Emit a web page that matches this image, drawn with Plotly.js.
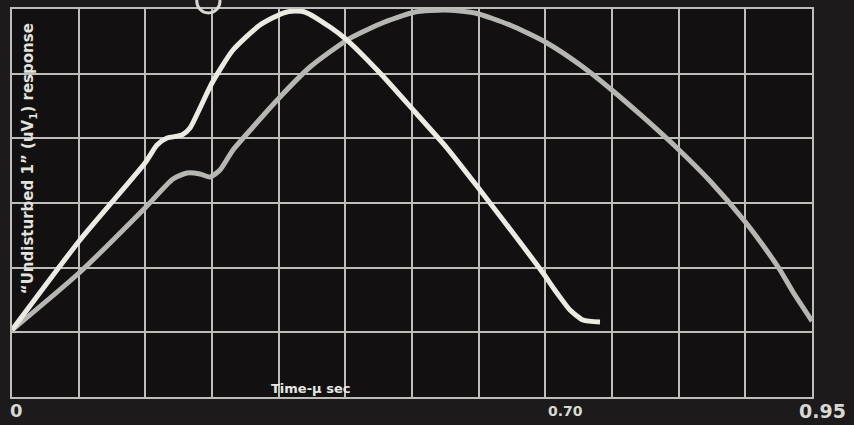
<!DOCTYPE html>
<html>
<head>
<meta charset="utf-8">
<script src="https://cdn.plot.ly/plotly-3.0.1.min.js"></script>
<style>html,body{margin:0;padding:0;background:#1c1a1a;}#chart{width:854px;height:425px;}</style>
</head>
<body>
<div id="chart"></div>
<script>
// Graticule units: x = horizontal divisions (0..12), y = vertical divisions (0..6)
const traceA_x = [0, 1.02, 1.995, 2.175, 2.325, 2.55, 2.67, 2.82, 3.0, 3.315, 3.72, 4.065, 4.245, 4.395, 4.77, 5.025, 5.52, 6.045, 6.525, 7.02, 7.515, 7.965, 8.175, 8.37, 8.565, 8.82];
const traceA_y = [1.036, 2.428, 3.618, 3.897, 4.005, 4.051, 4.160, 4.469, 4.855, 5.366, 5.752, 5.938, 5.969, 5.953, 5.721, 5.520, 5.010, 4.407, 3.850, 3.201, 2.536, 1.917, 1.608, 1.345, 1.191, 1.160];
const traceB_x = [0, 1.005, 1.995, 2.415, 2.625, 2.82, 2.97, 3.12, 3.315, 3.615, 4.02, 4.47, 5.025, 5.52, 6.045, 6.495, 6.945, 7.47, 8.025, 8.565, 9.015, 9.465, 9.975, 10.47, 11.0, 11.325, 11.52, 11.715, 12.0];
const traceB_y = [1.036, 1.917, 2.923, 3.371, 3.464, 3.448, 3.402, 3.510, 3.819, 4.175, 4.639, 5.103, 5.520, 5.768, 5.953, 5.984, 5.938, 5.752, 5.474, 5.103, 4.732, 4.330, 3.850, 3.340, 2.706, 2.258, 1.964, 1.624, 1.175];
const tickLabels = ["0", "0.70", "0.95"];
const tickAt = [0.06, 8.3, 12.15];
const tickSizes = [18, 14, 19];
const yTitle = "“Undisturbed 1” (uV<sub>1</sub>) response";
const xTitle = "Time-µ sec";

const gridCol = '#bdbdb9';
const fontFam = 'DejaVu Sans, Lato, sans-serif';
const data = [
  {x: traceB_x, y: traceB_y, mode: 'lines', line: {color: '#b6b6b2', width: 5, shape: 'spline', smoothing: 0.6}, hoverinfo: 'skip'},
  {x: traceA_x, y: traceA_y, mode: 'lines', line: {color: '#ebebe3', width: 5, shape: 'spline', smoothing: 0.6}, hoverinfo: 'skip'}
];
const annotations = tickLabels.map((t, i) => ({
  x: tickAt[i] / 12, xref: 'paper', xanchor: 'center', y: -0.036, yref: 'paper', yanchor: 'middle',
  text: '<b>' + t + '</b>', showarrow: false,
  font: {family: fontFam, size: tickSizes[i], color: '#d8d8d4'}
}));
annotations.push({
  xref: 'paper', x: 0.021, xanchor: 'center', yref: 'paper', y: 0.615, yanchor: 'middle',
  text: '<b>' + yTitle + '</b>', textangle: -90,
  showarrow: false, font: {family: fontFam, size: 15, color: '#e2e2de'}
});
annotations.push({
  xref: 'paper', x: 0.3725, xanchor: 'center', yref: 'paper', y: 0.023, yanchor: 'middle',
  text: '<b>' + xTitle + '</b>',
  showarrow: false, font: {family: fontFam, size: 13, color: '#e6e6e2'}
});
const layout = {
  width: 854, height: 425,
  margin: {l: 12, r: 42, t: 9, b: 28},
  paper_bgcolor: '#1c1a1a', plot_bgcolor: '#121011',
  showlegend: false,
  xaxis: {range: [0, 12], dtick: 1, tick0: 0, showgrid: true, gridcolor: gridCol, gridwidth: 2,
          zeroline: false, showline: true, mirror: true, linecolor: gridCol, linewidth: 2,
          showticklabels: false, ticks: '', fixedrange: true},
  yaxis: {range: [0, 6], dtick: 1, tick0: 0, showgrid: true, gridcolor: gridCol, gridwidth: 2,
          zeroline: false, showline: true, mirror: true, linecolor: gridCol, linewidth: 2,
          showticklabels: false, ticks: '', fixedrange: true},
  annotations: annotations,
  shapes: [{type: 'circle', xref: 'paper', yref: 'paper', x0: 0.231, x1: 0.26, y0: 0.99, y1: 1.05,
            line: {color: '#d8d8d4', width: 3}}]
};
Plotly.newPlot('chart', data, layout, {displayModeBar: false, staticPlot: true});
</script>
</body>
</html>
